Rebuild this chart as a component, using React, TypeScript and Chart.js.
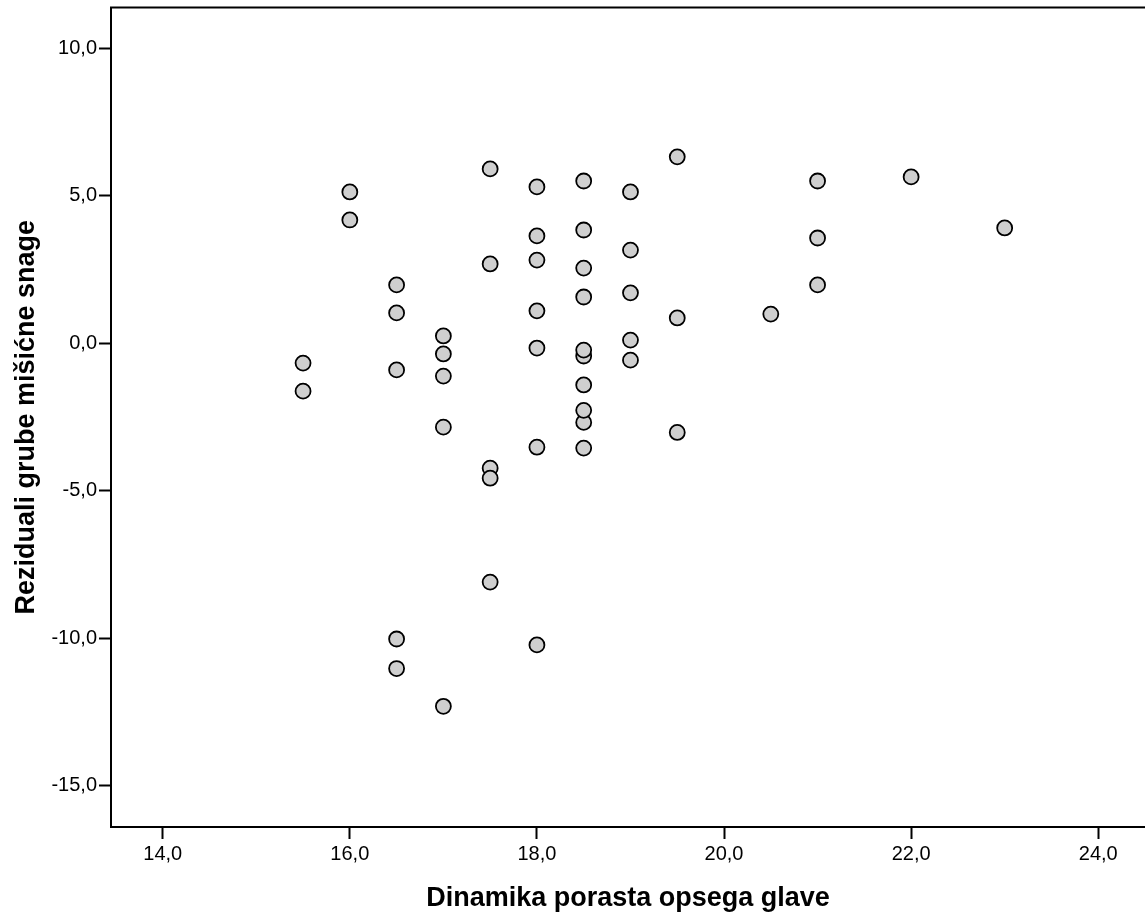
import React, { useEffect, useRef } from "react";
import { Chart, registerables } from "chart.js";

Chart.register(...registerables);

const xValues: number[] = [
  15.5, 15.5,
  16.0, 16.0,
  16.5, 16.5, 16.5, 16.5, 16.5,
  17.0, 17.0, 17.0, 17.0, 17.0,
  17.5, 17.5, 17.5, 17.5, 17.5,
  18.0, 18.0, 18.0, 18.0, 18.0, 18.0, 18.0,
  18.5, 18.5, 18.5, 18.5, 18.5, 18.5, 18.5, 18.5, 18.5, 18.5,
  19.0, 19.0, 19.0, 19.0, 19.0,
  19.5, 19.5, 19.5,
  20.5,
  21.0, 21.0, 21.0,
  22.0,
  23.0,
];

const yValues: number[] = [
  -0.67, -1.62,
  5.13, 4.18,
  1.98, 1.03, -0.9, -10.02, -11.02,
  0.25, -0.36, -1.11, -2.84, -12.3,
  5.91, 2.69, -4.23, -4.57, -8.09,
  5.3, 3.64, 2.82, 1.1, -0.16, -3.52, -10.22,
  5.5, 3.84, 2.55, 1.57, -0.43, -0.23, -1.41, -2.68, -2.27, -3.55,
  5.13, 3.16, 1.71, 0.11, -0.57,
  6.32, 0.86, -3.02,
  0.99,
  5.5, 3.57, 1.98,
  5.64,
  3.91,
];

const xTitle = "Dinamika porasta opsega glave";
const yTitle = "Reziduali grube mišićne snage";

const FONT = "'Liberation Sans', Arial, Helvetica, sans-serif";

const fmt = (v: number | string) => Number(v).toFixed(1).replace(".", ",");

const topFrame = {
  id: "topFrame",
  afterDraw(chart: any) {
    const { ctx, chartArea } = chart;
    ctx.save();
    ctx.strokeStyle = "#000";
    ctx.lineWidth = 2;
    ctx.beginPath();
    ctx.moveTo(chartArea.left - 1, chartArea.top);
    ctx.lineTo(chartArea.right + 1, chartArea.top);
    ctx.stroke();
    ctx.restore();
  },
};

export default function App() {
  const ref = useRef<HTMLCanvasElement | null>(null);

  useEffect(() => {
    if (!ref.current) return;
    const points = xValues.map((x, i) => ({ x, y: yValues[i] }));
    const chart = new Chart(ref.current, {
      type: "scatter",
      data: {
        datasets: [
          {
            data: points,
            backgroundColor: "#cfcfcf",
            borderColor: "#000",
            borderWidth: 1.8,
            pointRadius: 7.5,
            pointHoverRadius: 7.5,
          },
        ],
      },
      plugins: [topFrame],
      options: {
        animation: false,
        responsive: false,
        maintainAspectRatio: false,
        layout: { autoPadding: false, padding: { top: 7.5, right: 0, left: 0, bottom: 0 } },
        plugins: {
          legend: { display: false },
          tooltip: { enabled: false },
        },
        scales: {
          x: {
            type: "linear",
            min: 13.447,
            max: 24.5,
            afterFit: (scale: any) => {
              scale.height = 90;
              scale.paddingLeft = 0;
              scale.paddingRight = 0;
            },
            ticks: {
              stepSize: 2,
              includeBounds: false,
              color: "#000",
              padding: 3,
              font: { family: FONT, size: 20 },
              callback: (v: any) => fmt(v),
            },
            grid: {
              display: true,
              drawOnChartArea: false,
              drawTicks: true,
              tickLength: 12,
              tickWidth: 2,
              tickColor: "#000",
            },
            border: { display: true, color: "#000", width: 2 },
            title: {
              display: true,
              text: xTitle,
              color: "#000",
              font: { family: FONT, size: 27, weight: "bold" },
              padding: { top: 0, bottom: 2 },
            },
          },
          y: {
            type: "linear",
            min: -16.39,
            max: 11.38,
            afterFit: (scale: any) => {
              scale.width = 111;
              scale.paddingTop = 0;
              scale.paddingBottom = 0;
            },
            ticks: {
              stepSize: 5,
              includeBounds: false,
              color: "#000",
              padding: 2,
              font: { family: FONT, size: 20 },
              callback: (v: any) => fmt(v),
            },
            grid: {
              display: true,
              drawOnChartArea: false,
              drawTicks: true,
              tickLength: 12,
              tickWidth: 2,
              tickColor: "#000",
            },
            border: { display: true, color: "#000", width: 2 },
            title: {
              display: true,
              text: yTitle,
              color: "#000",
              font: { family: FONT, size: 27, weight: "bold" },
              padding: { top: 10, bottom: 0 },
            },
          },
        },
      },
    });
    return () => chart.destroy();
  }, []);

  return (
    <div
      style={{
        position: "fixed",
        left: 0,
        top: 0,
        width: 1145,
        height: 917,
        background: "#fff",
        overflow: "hidden",
      }}
    >
      <canvas ref={ref} width={1145} height={917} style={{ width: 1145, height: 917, display: "block" }} />
    </div>
  );
}
